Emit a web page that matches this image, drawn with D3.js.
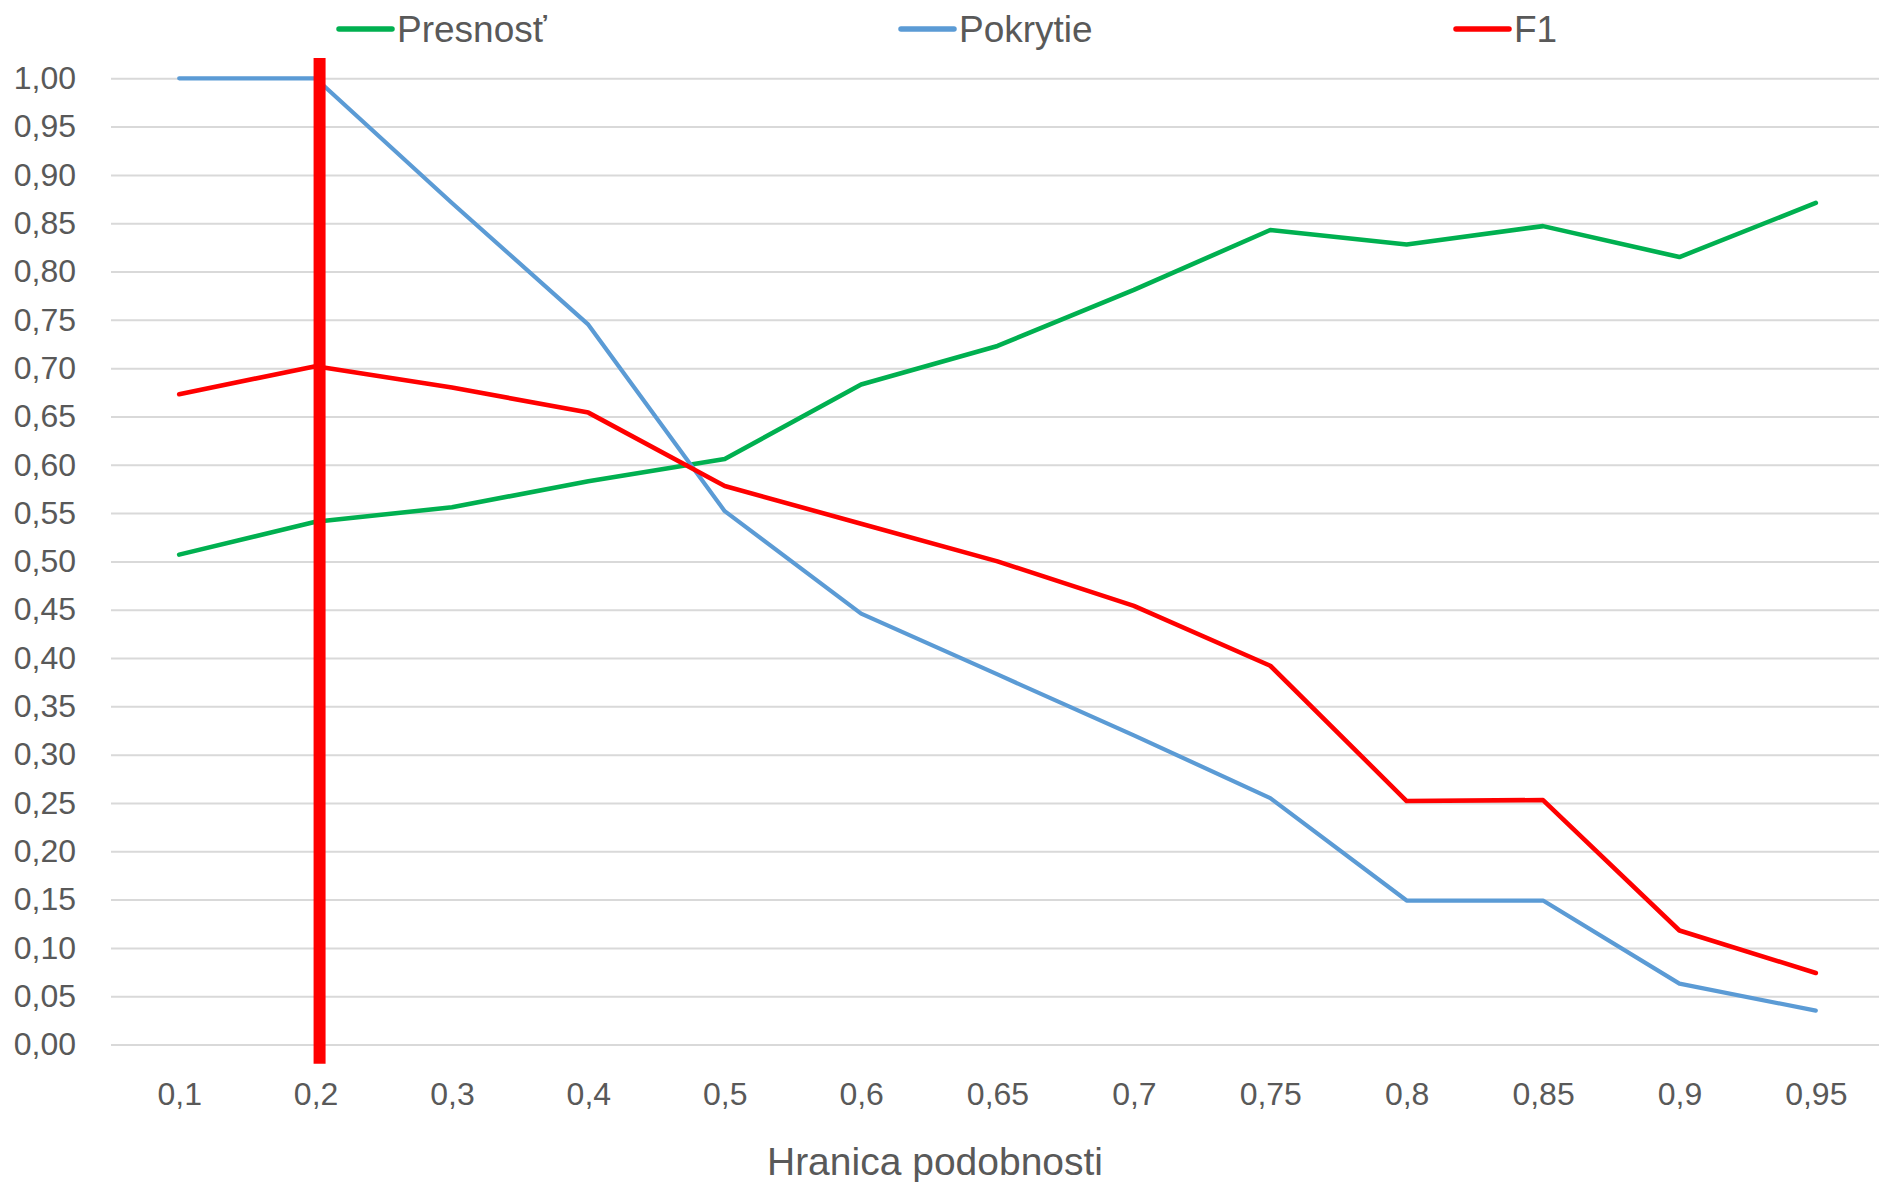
<!DOCTYPE html>
<html>
<head>
<meta charset="utf-8">
<script src="https://cdn.jsdelivr.net/npm/d3@7"></script>
<style>
  html, body { margin: 0; padding: 0; background: #ffffff; }
  svg { display: block; }
  text { font-family: "Liberation Sans", Arial, sans-serif; fill: #595959; }
</style>
</head>
<body>
<script>
// ---- data ----
const categories = ["0,1","0,2","0,3","0,4","0,5","0,6","0,65","0,7","0,75","0,8","0,85","0,9","0,95"];
const presnost = [0.507,0.541,0.556,0.583,0.606,0.683,0.723,0.781,0.843,0.828,0.847,0.815,0.871];
const pokrytie = [1.000,1.000,0.871,0.745,0.552,0.446,0.383,0.320,0.255,0.149,0.149,0.063,0.035];
const f1 = [0.673,0.702,0.680,0.654,0.578,0.539,0.500,0.454,0.392,0.252,0.253,0.118,0.074];
const seriesNames = ["Presnosť","Pokrytie","F1"];
const seriesColors = ["#00B050","#5B9BD5","#FF0000"];
const yTickValues = [0,0.05,0.10,0.15,0.20,0.25,0.30,0.35,0.40,0.45,0.50,0.55,0.60,0.65,0.70,0.75,0.80,0.85,0.90,0.95,1.00];
const xAxisTitle = "Hranica podobnosti";
const thresholdCategory = "0,2";
const thresholdExtent = [-0.02, 1.021];

// ---- layout ----
const W = 1879, H = 1182;
const plot = {left: 111, right: 1884, top: 78.3, bottom: 1044.5};
const legendStarts = [339, 901, 1456];

const svg = d3.select("body").append("svg").attr("width", W).attr("height", H);

const x = d3.scalePoint().domain(categories).range([plot.left, plot.right]).padding(0.5);
const y = d3.scaleLinear().domain([0, 1]).range([plot.bottom, plot.top]);

const fmt = d => d3.format(".2f")(d).replace(".", ",");

// gridlines
const grid = svg.append("g").attr("transform", `translate(${plot.left},0)`)
  .call(d3.axisLeft(y).tickValues(yTickValues).tickSize(-(plot.right - plot.left)).tickFormat(""));
grid.select(".domain").remove();
grid.selectAll(".tick line").attr("stroke", "#d9d9d9").attr("stroke-width", 2);

// y axis labels
const yAxis = svg.append("g").attr("transform", `translate(${plot.left},0)`)
  .call(d3.axisLeft(y).tickValues(yTickValues).tickSize(0).tickPadding(35).tickFormat(fmt));
yAxis.select(".domain").remove();
yAxis.selectAll("text").attr("font-size", 32).attr("font-family", "Liberation Sans, Arial, sans-serif").attr("fill", "#595959");

// x axis labels
const xAxis = svg.append("g").attr("transform", `translate(0,${plot.bottom})`)
  .call(d3.axisBottom(x).tickSize(0));
xAxis.select(".domain").remove();
xAxis.selectAll("text").attr("font-size", 32).attr("y", 60).attr("dy", 0)
  .attr("font-family", "Liberation Sans, Arial, sans-serif").attr("fill", "#595959");

// x axis title
svg.append("text").attr("x", 935).attr("y", 1175).attr("text-anchor", "middle")
  .attr("font-size", 39).text(xAxisTitle);

// lines
const seriesData = [presnost, pokrytie, f1];
const widths = [4.6, 4.2, 4.6];
const line = d3.line().x((d, i) => x(categories[i])).y(d => y(d));
seriesData.forEach((vals, k) => {
  svg.append("path").datum(vals)
    .attr("d", line)
    .attr("fill", "none")
    .attr("stroke", seriesColors[k])
    .attr("stroke-width", widths[k])
    .attr("stroke-linejoin", "round")
    .attr("stroke-linecap", "round");
});

// threshold marker (hand-placed shape in the original, slightly right of the category centre)
const bx = x(thresholdCategory) + 4;
svg.append("line")
  .attr("x1", bx).attr("x2", bx)
  .attr("y1", y(thresholdExtent[1])).attr("y2", y(thresholdExtent[0]))
  .attr("stroke", "#FF0000").attr("stroke-width", 12);

// legend
const legend = svg.append("g");
seriesNames.forEach((name, i) => {
  const lx = legendStarts[i];
  legend.append("line").attr("x1", lx).attr("x2", lx + 53).attr("y1", 29).attr("y2", 29)
    .attr("stroke", seriesColors[i]).attr("stroke-width", 5.5).attr("stroke-linecap", "round");
  legend.append("text").attr("x", lx + 58).attr("y", 42).attr("font-size", 37).text(name);
});
</script>
</body>
</html>
